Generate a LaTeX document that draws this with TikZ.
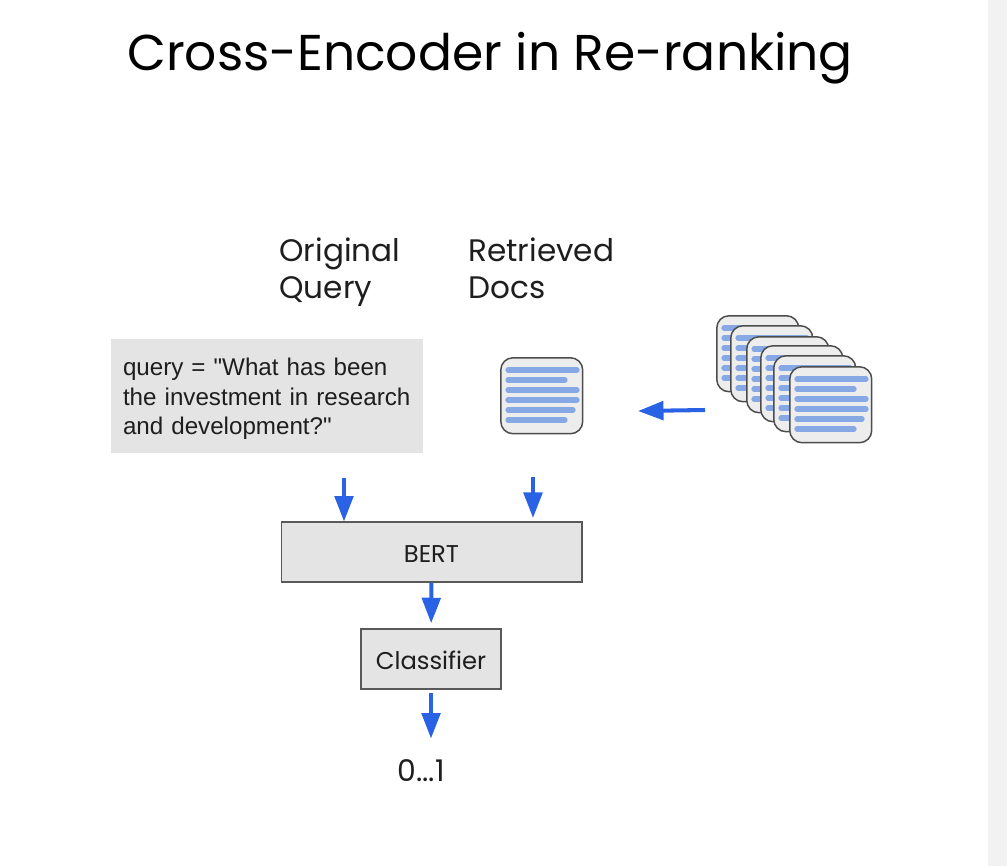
\documentclass[tikz,border=0pt]{standalone}
\usepackage{fontspec}
\setmainfont{Poppins}
\newfontfamily\queryfont{Liberation Sans}
\definecolor{arrowblue}{HTML}{2A62E6}
\definecolor{boxgray}{HTML}{E4E4E4}
\definecolor{docgray}{HTML}{EDEDED}
\definecolor{barblue}{HTML}{86A9E6}
\definecolor{stripgray}{HTML}{F2F2F2}
\definecolor{inkblack}{HTML}{1E1E1E}
\usetikzlibrary{arrows.meta, positioning, calc}

\begin{document}
\begin{tikzpicture}[
        x=0.02cm, y=-0.02cm,
        title/.style={font=\fontsize{28.65}{32}\selectfont, text=black, inner sep=0pt},
        label/.style={font=\fontsize{17.7}{21.6}\selectfont, text=inkblack, align=left,
                      anchor=north west, inner sep=0pt},
        querybox/.style={fill=boxgray, minimum width=6.24cm, minimum height=2.28cm,
                         text width=5.76cm, inner sep=0pt, align=left, text=inkblack,
                         font=\queryfont\fontsize{13.75}{16.8}\selectfont},
        box/.style={draw=black!65, fill=boxgray, line width=0.6pt, minimum height=1.2cm,
                    inner sep=0pt, text=inkblack, text height=11.5pt,
                    font=\fontsize{13.8}{16}\selectfont},
        docbox/.style={draw=black!70, fill=docgray, line width=0.85pt, rounded corners=7pt,
                       minimum width=1.64cm, minimum height=1.52cm, inner sep=0pt,
                       anchor=north west},
        docbar/.style={barblue, line width=3pt, line cap=round},
        arr/.style={-{Triangle[length=14.5pt, width=10.5pt]}, arrowblue, line width=2.3pt}
      ]
        \useasboundingbox (0,0) rectangle (1007,866);
        \fill[stripgray] (988,0) rectangle (1007,866);

        \node[title] (head) at (490,58) {Cross-Encoder in Re-ranking};
        \node[label] (origq) at (279,237) {Original\\Query};
        \node[label] (retr) at (468,237) {Retrieved\\Docs};

        \node[querybox] (query) at (267,396) {\rule{0pt}{13.3pt}query = "What has been\\the investment in research\\and development?"};

        % single doc, then the stack
        \foreach \px/\py/\nm in {500/357/doc, 716/315/sa, 730/325/sb, 746/336/sc,
                                 760/345/sd, 773/355/se, 789/366/sf} {
          \node[docbox] (\nm) at (\px,\py) {};
          \foreach \by/\bw in {13/69, 23/57, 33/69, 43/69, 53/65, 63/57} {
            \draw[docbar] ($(\nm.north west)+(8,\by)$) -- ++(\bw,0);
          }
        }

        \node[box, minimum width=6.02cm] (bert) at (431.5,552) {BERT};
        \node[box, minimum width=2.8cm] (clf) at (431,659) {Classifier};
        \node[font=\fontsize{17}{20}\selectfont, text=inkblack, inner sep=0pt] (score) at (421,771) {0...1};

        \coordinate (qin) at (344,478);
        \coordinate (din) at (533,477);
        \coordinate (clfout) at (431,693);
        \coordinate (stackout) at (705,410);
        \coordinate (docin) at (638,411);

        \draw[arr] (qin) -- (qin |- bert.north);
        \draw[arr, shorten >=2pt] (din) -- (din |- bert.north);
        \draw[arr, shorten >=3pt] (bert) -- (clf);
        \draw[arr, shorten >=12pt] (clfout) -- (clfout |- score.north);
        \draw[arr] (stackout) -- (docin);
      \end{tikzpicture}
\end{document}
